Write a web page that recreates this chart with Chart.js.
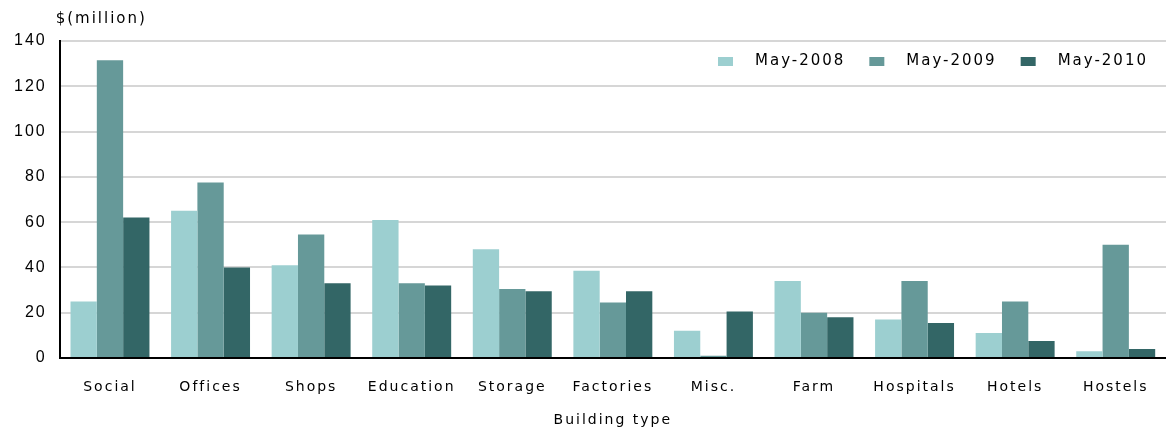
<!DOCTYPE html>
<html>
<head>
<meta charset="utf-8">
<script src="https://cdn.jsdelivr.net/npm/chart.js@4"></script>
<style>
  html, body { margin: 0; padding: 0; background: #fff; }
  #wrap { width: 1166px; height: 430px; }
</style>
</head>
<body>
<div id="wrap"><canvas id="bar-chart"></canvas></div>
<script>
// building types along the x axis
var tipos = ['Social', 'Offices', 'Shops', 'Education', 'Storage', 'Factories', 'Misc.', 'Farm', 'Hospitals', 'Hotels', 'Hostels'];
var series = ['May-2008', 'May-2009', 'May-2010'];
// $ million
var may2008 = [25, 65, 41, 61, 48, 38.5, 12, 34, 17, 11, 3];
var may2009 = [131.5, 77.5, 54.5, 33, 30.5, 24.5, 1, 20, 34, 25, 50];
var may2010 = [62, 40, 33, 32, 29.5, 29.5, 20.5, 18, 15.5, 7.5, 4];
var yTicks = [0, 20, 40, 60, 80, 100, 120, 140];
var colores = ['#9ccfd0', '#669999', '#336666'];

var fuente = '"DejaVu Sans"';

// wide, spaced lettering like the original; canvas resets on resize so set it every time
var espaciado = {
  id: 'espaciado',
  beforeUpdate: function(chart){ chart.ctx.letterSpacing = '2px'; },
  beforeLayout: function(chart){ chart.ctx.letterSpacing = '2px'; },
  beforeDraw: function(chart){ chart.ctx.letterSpacing = '2px'; }
};

// "$(million)" label and the legend inside the top of the plot
var extras = {
  id: 'extras',
  afterDraw: function(chart){
    var ctx = chart.ctx;
    var area = chart.chartArea;
    ctx.save();
    ctx.letterSpacing = '2px';
    ctx.fillStyle = '#000';
    ctx.textBaseline = 'middle';
    ctx.textAlign = 'left';
    ctx.font = '15px ' + fuente;
    ctx.fillText('$(million)', area.left - 4, area.top - 22);

    // legend, laid out from the right
    var y = area.top + 20;
    var x = area.right - 18;
    for (var i = chart.data.datasets.length - 1; i >= 0; i--) {
      var ds = chart.data.datasets[i];
      var w = ctx.measureText(ds.label).width;
      x -= w;
      ctx.fillStyle = '#000';
      ctx.fillText(ds.label, x, y);
      x -= 22;
      ctx.fillStyle = ds.backgroundColor;
      ctx.fillRect(x - 15, y - 4, 15, 9);
      x -= 15 + 24;
    }
    ctx.restore();
  }
};

var chartdata = {
  labels: tipos,
  datasets: [
    { label: series[0], backgroundColor: colores[0], data: may2008 },
    { label: series[1], backgroundColor: colores[1], data: may2009 },
    { label: series[2], backgroundColor: colores[2], data: may2010 }
  ]
};

var ctx = document.getElementById('bar-chart');
var barGraph = new Chart(ctx, {
  type: 'bar',
  data: chartdata,
  plugins: [espaciado, extras],
  options: {
    responsive: true,
    maintainAspectRatio: false,
    animation: false,
    layout: { padding: { top: 41, right: 0, left: 1, bottom: 3 } },
    datasets: { bar: { categoryPercentage: 0.785, barPercentage: 1.0 } },
    plugins: {
      tooltip: { enabled: false },
      legend: { display: false }
    },
    scales: {
      x: {
        grid: { display: false },
        border: { color: '#000', width: 2 },
        ticks: { color: '#000', font: { family: fuente, size: 14, lineHeight: 1 }, padding: 14 },
        title: { display: true, text: 'Building type', color: '#000', font: { family: fuente, size: 14, lineHeight: 1 }, padding: { top: 5, bottom: 0 } }
      },
      y: {
        min: 0,
        max: 140,
        afterBuildTicks: function(axis){
          axis.ticks = yTicks.map(function(v){ return { value: v }; });
        },
        grid: { color: '#d6d6d6', lineWidth: 2, drawTicks: false },
        border: { color: '#000', width: 2 },
        ticks: { color: '#000', font: { family: '"Liberation Sans"', size: 16 }, padding: 13 }
      }
    }
  }
});
</script>
</body>
</html>
